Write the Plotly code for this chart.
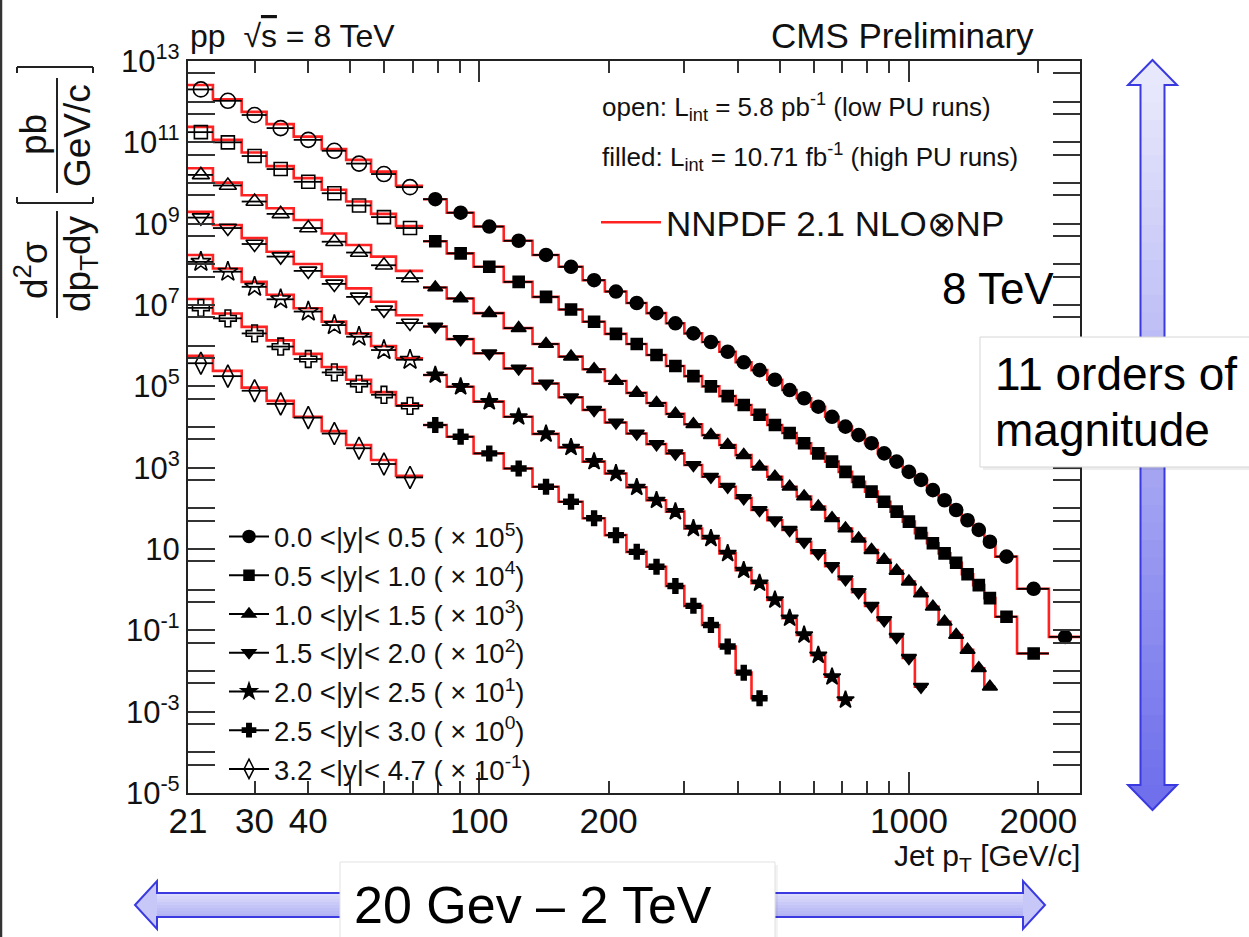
import plotly.graph_objects as go

# ---------------------------------------------------------------------------
# Jet pT binning [GeV/c]
LOW_PT_EDGES = [21, 24, 28, 32, 37, 43, 49, 56, 64, 74]
HIGH_PT_EDGES = [74, 84, 97, 114, 133, 153, 174, 196, 220, 245, 272, 300, 330,
                 362, 395, 430, 468, 507, 548, 592, 638, 686, 737, 790, 846, 905,
                 967, 1032, 1101, 1172, 1248, 1327, 1410, 1497, 1588, 1784, 2116,
                 2500]

RAPIDITY_BINS = ["0.0 <|y|< 0.5", "0.5 <|y|< 1.0", "1.0 <|y|< 1.5",
                 "1.5 <|y|< 2.0", "2.0 <|y|< 2.5", "2.5 <|y|< 3.0",
                 "3.2 <|y|< 4.7"]
SCALE_POWERS = [5, 4, 3, 2, 1, 0, -1]

# Low-PU runs (open markers): measured d2sigma/dpT dy [pb/(GeV/c)], unscaled
low_data_y00 = [2.0e7, 1.05e7, 4.7e6, 2.24e6, 1.15e6, 6.2e5, 3.0e5, 1.66e5, 7.9e4]
low_data_y05 = [1.78e7, 1.0e7, 4.6e6, 2.2e6, 1.07e6, 5.6e5, 2.8e5, 1.45e5, 7.8e4]
low_data_y10 = [1.58e7, 8.7e6, 3.5e6, 1.74e6, 7.8e5, 3.6e5, 1.95e5, 9.5e4, 4.6e4]
low_data_y15 = [1.41e7, 7.8e6, 3.16e6, 1.55e6, 6.9e5, 3.3e5, 1.58e5, 7.6e4, 3.6e4]
low_data_y20 = [1.15e7, 6.6e6, 2.8e6, 1.38e6, 6.9e5, 3.2e5, 1.66e5, 7.8e4, 4.5e4]
low_data_y25 = [8.5e6, 4.7e6, 2.0e6, 9.5e5, 4.7e5, 2.2e5, 1.15e5, 6.2e4, 3.3e4]
low_data_y32 = [3.7e6, 1.78e6, 7.8e5, 3.7e5, 1.7e5, 6.9e4, 3.0e4, 1.23e4, 5.75e3]

# NNPDF 2.1 NLO x NP prediction in the low-pT bins
low_nlo_y00 = [2.57e7, 1.15e7, 5.6e6, 2.8e6, 1.38e6, 6.8e5, 3.7e5, 1.9e5, 8.5e4]
low_nlo_y05 = [2.4e7, 1.15e7, 5.6e6, 2.6e6, 1.32e6, 6.8e5, 3.5e5, 1.74e5, 8.7e4]
low_nlo_y10 = [2.3e7, 1.02e7, 5.0e6, 2.4e6, 1.23e6, 5.75e5, 3.0e5, 1.55e5, 6.9e4]
low_nlo_y15 = [1.95e7, 9.3e6, 4.4e6, 2.04e6, 1.02e6, 5.0e5, 2.57e5, 1.2e5, 5.6e4]
low_nlo_y20 = [1.7e7, 7.9e6, 3.7e6, 1.78e6, 8.3e5, 3.9e5, 2.0e5, 9.8e4, 4.9e4]
low_nlo_y25 = [1.41e7, 6.2e6, 2.9e6, 1.35e6, 6.3e5, 3.0e5, 1.45e5, 7.2e4, 3.4e4]
low_nlo_y32 = [5.6e6, 2.4e6, 9.3e5, 4.4e5, 1.78e5, 7.9e4, 3.6e4, 1.55e4, 6.3e3]

# High-PU runs (filled markers), one value per HIGH_PT_EDGES bin
high_data_y00 = [4.0e4, 1.86e4, 8.5e3, 3.8e3, 1.70e3, 870, 407, 214, 112, 63,
                 35.5, 20.0, 12.3, 7.1, 3.9, 2.5, 1.45, 0.81, 0.51, 0.316,
                 0.178, 0.102, 0.063, 0.040, 0.0224, 0.0141, 7.9e-3, 5.0e-3,
                 2.8e-3, 1.58e-3, 9.1e-4, 5.1e-4, 2.95e-4, 1.51e-4, 6.5e-5,
                 1.05e-5, 6.9e-7]
high_data_y05 = [3.7e4, 1.86e4, 8.7e3, 3.7e3, 1.58e3, 776, 389, 195, 110, 59,
                 31.6, 17.8, 10.0, 5.75, 3.47, 2.0, 1.12, 0.71, 0.40, 0.224,
                 0.141, 0.079, 0.0447, 0.0257, 0.0145, 8.3e-3, 4.7e-3, 2.45e-3,
                 1.38e-3, 7.8e-4, 4.6e-4, 2.4e-4, 1.29e-4, 6.2e-5, 2.16e-5,
                 2.7e-6]
high_data_y10 = [2.7e4, 1.45e4, 6.3e3, 2.7e3, 1.10e3, 537, 263, 135, 69, 39,
                 21, 11.7, 6.3, 3.6, 2.04, 1.05, 0.60, 0.34, 0.195, 0.11,
                 0.057, 0.032, 0.018, 9.4e-3, 5.4e-3, 2.9e-3, 1.58e-3, 8.1e-4,
                 3.8e-4, 1.62e-4, 7.7e-5, 3.3e-5, 1.17e-5, 4.1e-6]
high_data_y15 = [2.95e4, 1.45e4, 6.5e3, 2.75e3, 1.17e3, 537, 263, 129, 69, 38,
                 22.4, 11.6, 6.0, 3.4, 1.78, 0.91, 0.51, 0.295, 0.151, 0.079,
                 0.038, 0.018, 8.7e-3, 4.0e-3, 1.78e-3, 6.9e-4, 2.1e-4, 4.1e-5]
high_data_y20 = [1.9e4, 9.8e3, 4.2e3, 1.78e3, 676, 316, 141, 72, 33, 15.8,
                 8.3, 3.2, 1.82, 0.78, 0.30, 0.145, 0.056, 0.020, 7.7e-3,
                 2.45e-3, 7.2e-4, 1.95e-4]
high_data_y25 = [1.12e4, 5.75e3, 2.24e3, 955, 339, 145, 57, 21.9, 8.5, 3.67,
                 1.23, 0.40, 0.135, 0.040, 9.1e-3, 2.14e-3]
high_data_y32 = []

# ---------------------------------------------------------------------------
W, H = 1249, 937
ML, MR, MT, MB = 188, 169, 61, 144
PW, PH = W - ML - MR, H - MT - MB
FONT = "Liberation Sans, Arial, Helvetica, sans-serif"
RED = "#ff2222"
INK = "#111111"


def fx(x):
    """page pixel -> paper x"""
    return (x - ML) / PW


def fy(y):
    """page pixel -> paper y"""
    return (H - MB - y) / PH


series = [
    dict(label=RAPIDITY_BINS[i], power=SCALE_POWERS[i], low=ld, nlo=ln, high=hd)
    for i, (ld, ln, hd) in enumerate([
        (low_data_y00, low_nlo_y00, high_data_y00),
        (low_data_y05, low_nlo_y05, high_data_y05),
        (low_data_y10, low_nlo_y10, high_data_y10),
        (low_data_y15, low_nlo_y15, high_data_y15),
        (low_data_y20, low_nlo_y20, high_data_y20),
        (low_data_y25, low_nlo_y25, high_data_y25),
        (low_data_y32, low_nlo_y32, high_data_y32),
    ])
]
FILLED = ["circle", "square", "triangle-up", "triangle-down", "star", "cross",
          "diamond-tall-open"]
OPEN = ["circle-open", "square-open", "triangle-up-open", "triangle-down-open",
        "star-open", "cross-open", "diamond-tall-open"]
F_SIZE = [13, 11, 13, 13, 13, 12, 15]
O_SIZE = [15, 13, 15, 15, 15, 14, 16]

fig = go.Figure()


def add_step(edges, vals, scale):
    n = len(vals)
    ys = [v * scale for v in vals]
    fig.add_trace(go.Scatter(
        x=edges[:n + 1], y=ys + [ys[-1]], mode="lines",
        line=dict(color=RED, width=2.6, shape="hv"),
        showlegend=False, hoverinfo="skip"))


def add_points(edges, vals, scale, symbol, size):
    n = len(vals)
    lo, hi = edges[:n], edges[1:n + 1]
    xc = [(a + b) / 2 for a, b in zip(lo, hi)]
    fig.add_trace(go.Scatter(
        x=xc, y=[v * scale for v in vals], mode="markers",
        marker=dict(symbol=symbol, size=size, color="black",
                    line=dict(color="black", width=1.6)),
        error_x=dict(type="data", symmetric=False,
                     array=[b - c for b, c in zip(hi, xc)],
                     arrayminus=[c - a for c, a in zip(xc, lo)],
                     color="black", thickness=1.8, width=0),
        showlegend=False))


# theory histograms (below the markers); above 74 GeV the prediction is
# drawn from the same per-bin values as the measurement
for s in series:
    sc = 10.0 ** s["power"]
    add_step(LOW_PT_EDGES, s["nlo"], sc)
    if s["high"]:
        add_step(HIGH_PT_EDGES, s["high"], sc)

for i, s in enumerate(series):
    sc = 10.0 ** s["power"]
    add_points(LOW_PT_EDGES, s["low"], sc, OPEN[i], O_SIZE[i])
    if s["high"]:
        add_points(HIGH_PT_EDGES, s["high"], sc, FILLED[i], F_SIZE[i])

# legend entries
for i, s in enumerate(series):
    fig.add_trace(go.Scatter(
        x=[None], y=[None], xaxis="x2", mode="lines+markers",
        name=f"{s['label']} ( × 10<sup>{s['power']}</sup>)",
        marker=dict(symbol=FILLED[i], size=F_SIZE[i] - 1, color="black",
                    line=dict(color="black", width=1.5)),
        line=dict(color="black", width=2),
        legend="legend", legendgroup=str(i)))
fig.add_trace(go.Scatter(
    x=[None], y=[None], xaxis="x2", mode="lines", name="NNPDF 2.1 NLO⊗NP",
    line=dict(color=RED, width=2.6), legend="legend2"))
# placeholder that attaches the secondary y axis (unlabelled decade ticks)
fig.add_trace(go.Scatter(x=[None], y=[None], yaxis="y2", showlegend=False,
                         hoverinfo="skip"))

# ---------------------------------------------------------------------------
Y_LABELLED = [10.0 ** k for k in range(-5, 14, 2)]
Y_LABEL_TEXT = ["10" if k == 1 else f"10<sup>{k}</sup>" for k in range(-5, 14, 2)]
Y_PLAIN = [10.0 ** k for k in range(-4, 13, 2)]
Y_MINOR = [5 * 10.0 ** k for k in range(-5, 13)]
X_TICKS = [21, 30, 40, 100, 200, 1000, 2000]
X_MINOR = [50, 60, 70, 80, 90, 300, 400, 500, 600, 700, 800, 900]
X_DECADES = [100, 1000]
X_RANGE = [1.3222, 3.3979]
Y_RANGE = [-5, 13]

axis_common = dict(showgrid=False, zeroline=False, ticks="inside",
                   tickcolor="#333", tickwidth=1.5, linecolor="#222",
                   linewidth=2.2, showline=True, mirror="allticks")
overlay_common = dict(showticklabels=False, showgrid=False, zeroline=False,
                      ticks="inside", tickcolor="#333", tickwidth=1.5,
                      showline=False, mirror="ticks", tickmode="array")

fig.update_layout(
    width=W, height=H, autosize=False,
    margin=dict(l=ML, r=MR, t=MT, b=MB, pad=0),
    paper_bgcolor="white", plot_bgcolor="white",
    font=dict(family=FONT, color=INK),
    xaxis=dict(type="log", range=X_RANGE, tickmode="array",
               tickvals=X_TICKS, ticktext=[str(v) for v in X_TICKS],
               ticklen=12, ticklabelstandoff=-4,
               tickfont=dict(size=35, family=FONT, color=INK),
               minor=dict(tickmode="array", tickvals=X_MINOR, ticklen=12,
                          tickcolor="#333", tickwidth=1.5, ticks="inside"),
               **axis_common),
    xaxis2=dict(type="log", range=X_RANGE, overlaying="x", anchor="y",
                side="bottom", tickvals=X_DECADES, ticklen=21,
                **overlay_common),
    yaxis=dict(type="log", range=Y_RANGE, tickmode="array",
               tickvals=Y_LABELLED, ticktext=Y_LABEL_TEXT, ticklen=27,
               tickfont=dict(size=31, family=FONT, color=INK),
               minor=dict(tickmode="array", tickvals=Y_MINOR, ticklen=13,
                          tickcolor="#333", tickwidth=1.5, ticks="inside"),
               **axis_common),
    yaxis2=dict(type="log", range=Y_RANGE, overlaying="y", anchor="x",
                side="left", tickvals=Y_PLAIN, ticklen=27, **overlay_common),
    legend=dict(x=fx(224), y=fy(512), xanchor="left", yanchor="top",
                bgcolor="rgba(0,0,0,0)", font=dict(size=27.5, family=FONT,
                                                   color=INK),
                tracegroupgap=0, itemwidth=40, traceorder="normal"),
    legend2=dict(x=fx(596), y=fy(193), xanchor="left", yanchor="top",
                 bgcolor="rgba(0,0,0,0)", font=dict(size=35, family=FONT,
                                                    color=INK),
                 itemwidth=60),
)


def text(x, y, s, size, xanchor="left", angle=0, color=INK):
    fig.add_annotation(x=fx(x), y=fy(y), xref="paper", yref="paper", text=s,
                       showarrow=False, xanchor=xanchor, yanchor="middle",
                       textangle=angle, font=dict(size=size, family=FONT,
                                                  color=color))


def line(x0, y0, x1, y1, color="#222", width=2):
    fig.add_shape(type="line", xref="paper", yref="paper", x0=fx(x0),
                  y0=fy(y0), x1=fx(x1), y1=fy(y1), layer="above",
                  line=dict(color=color, width=width))


def poly(points, fill, outline=None, width=0):
    d = "M " + " L ".join(f"{fx(a):.5f},{fy(b):.5f}" for a, b in points) + " Z"
    fig.add_shape(type="path", path=d, xref="paper", yref="paper",
                  fillcolor=fill, layer="above",
                  line=dict(color=outline or fill, width=width))


# headers and captions of the CMS figure
text(188, 36, "pp  √<span style='text-decoration:overline'>s</span> = 8 TeV", 32)
text(1036, 35, "CMS Preliminary", 35, xanchor="right")
text(600, 107, "open: L<sub>int</sub> = 5.8 pb<sup>-1</sup> (low PU runs)", 26)
text(600, 157, "filled: L<sub>int</sub> = 10.71 fb<sup>-1</sup> (high PU runs)", 26)
text(1082, 857, "Jet p<sub>T</sub> [GeV/c]", 30, xanchor="right")

# y-axis title: d2sigma/dpT dy [pb / GeV/c]
text(33, 135, "pb", 37, xanchor="center", angle=-90)
text(78, 136, "GeV/c", 37, xanchor="center", angle=-90)
text(31, 270, "d<sup>2</sup>σ", 37, xanchor="center", angle=-90)
text(80, 264, "dp<sub>T</sub>dy", 37, xanchor="center", angle=-90)
line(57, 78, 57, 193)
line(57, 211, 57, 318)
for yb, yt in ((67, 73), (203, 197)):
    line(17, yb, 93, yb)
    line(17, yb, 17, yt)
    line(93, yb, 93, yt)

# slide decorations: double arrows with a colour gradient
def mix(c0, c1, t):
    return "rgb(%d,%d,%d)" % tuple(round(a + (b - a) * t) for a, b in zip(c0, c1))


V_CX, V_TOP, V_BOT, V_HEAD, V_HHW, V_SHW = 1152.5, 60, 810, 25, 24.5, 12
V_C0, V_C1 = (232, 232, 252), (112, 112, 236)
poly([(V_CX, V_TOP), (V_CX + V_HHW, V_TOP + V_HEAD), (V_CX - V_HHW, V_TOP + V_HEAD)],
     mix(V_C0, V_C1, 0.0))
n_v = 40
y_a, y_b = V_TOP + V_HEAD, V_BOT - V_HEAD
for k in range(n_v):
    ya = y_a + (y_b - y_a) * k / n_v
    yb = y_a + (y_b - y_a) * (k + 1) / n_v + 0.6
    poly([(V_CX - V_SHW, ya), (V_CX + V_SHW, ya), (V_CX + V_SHW, yb),
          (V_CX - V_SHW, yb)], mix(V_C0, V_C1, (k + 0.5) / n_v))
poly([(V_CX, V_BOT), (V_CX + V_HHW, V_BOT - V_HEAD), (V_CX - V_HHW, V_BOT - V_HEAD)],
     mix(V_C0, V_C1, 1.0))
poly([(V_CX, V_TOP), (V_CX + V_HHW, V_TOP + V_HEAD), (V_CX + V_SHW, V_TOP + V_HEAD),
      (V_CX + V_SHW, V_BOT - V_HEAD), (V_CX + V_HHW, V_BOT - V_HEAD), (V_CX, V_BOT),
      (V_CX - V_HHW, V_BOT - V_HEAD), (V_CX - V_SHW, V_BOT - V_HEAD),
      (V_CX - V_SHW, V_TOP + V_HEAD), (V_CX - V_HHW, V_TOP + V_HEAD)],
     "rgba(0,0,0,0)", outline="#3a3ae0", width=2)

H_CY, H_L, H_R, H_HEAD, H_HHW, H_SHW = 905, 135, 1045, 22, 24, 12
H_C0, H_C1 = (222, 222, 251), (176, 176, 244)
n_h = 8
for k in range(n_h):
    ya = H_CY - H_SHW + 2 * H_SHW * k / n_h
    yb = H_CY - H_SHW + 2 * H_SHW * (k + 1) / n_h + 0.6
    poly([(H_L + H_HEAD, ya), (H_R - H_HEAD, ya), (H_R - H_HEAD, yb),
          (H_L + H_HEAD, yb)], mix(H_C0, H_C1, (k + 0.5) / n_h))
poly([(H_L, H_CY), (H_L + H_HEAD, H_CY - H_HHW), (H_L + H_HEAD, H_CY + H_HHW)],
     mix(H_C0, H_C1, 0.5))
poly([(H_R, H_CY), (H_R - H_HEAD, H_CY - H_HHW), (H_R - H_HEAD, H_CY + H_HHW)],
     mix(H_C0, H_C1, 0.5))
poly([(H_L, H_CY), (H_L + H_HEAD, H_CY - H_HHW), (H_L + H_HEAD, H_CY - H_SHW),
      (H_R - H_HEAD, H_CY - H_SHW), (H_R - H_HEAD, H_CY - H_HHW), (H_R, H_CY),
      (H_R - H_HEAD, H_CY + H_HHW), (H_R - H_HEAD, H_CY + H_SHW),
      (H_L + H_HEAD, H_CY + H_SHW), (H_L + H_HEAD, H_CY + H_HHW)],
     "rgba(0,0,0,0)", outline="#3a3ae0", width=2)

# white text boxes on top of the arrows
poly([(983, 340), (1262, 340), (1262, 470), (983, 470)], "rgba(0,0,0,0.07)")
poly([(980, 337), (1262, 337), (1262, 467), (980, 467)], "white",
     outline="#d6d6d6", width=1)
poly([(343, 865), (778, 865), (778, 950), (343, 950)], "rgba(0,0,0,0.05)")
poly([(340, 862), (775, 862), (775, 950), (340, 950)], "white",
     outline="#e2e2e2", width=1)
line(1, 0, 1, H, color="#333", width=2.5)

text(998, 288, "8 TeV", 44, xanchor="center", color="black")
text(993, 374, "11 orders of", 46, color="black")
text(993, 430, "magnitude", 46, color="black")
text(352, 905, "20 Gev – 2 TeV", 52, color="black")

fig.write_html("out.html")
